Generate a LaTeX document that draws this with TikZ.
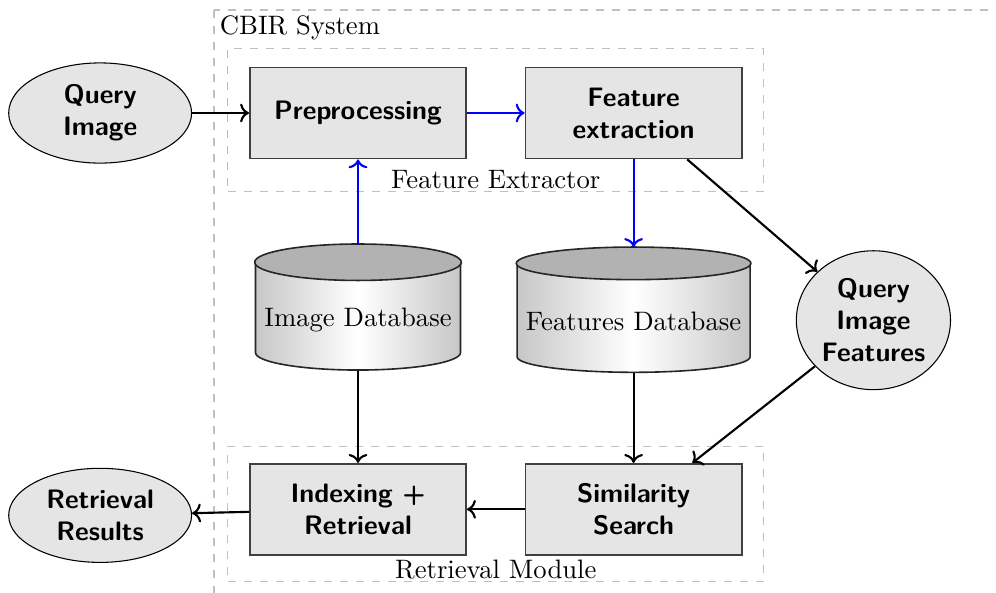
\documentclass[tikz,border=0pt]{standalone}
\usepackage{xcolor}
\usepackage{tikz}
\usetikzlibrary{arrows.meta,positioning,shapes.geometric,fit,calc}
\tikzset{
  cbir/block/.style={draw=black!75, semithick, fill=black!10, minimum width=28.5mm, minimum height=12mm, align=center, font=\sffamily\bfseries},
  cbir/io/.style={draw, ellipse, fill=black!10, align=center, inner sep=1pt, font=\sffamily\bfseries},
  cbir/db/.style={draw=black!85, semithick, cylinder, shape border rotate=90, left color=black!22, right color=black!22, middle color=white, align=center},
  cbir/cap/.style={draw=black!85, semithick, fill=black!30},
  cbir/group/.style={draw=black!25, dashed},
  cbir/grouplabel/.style={inner sep=1pt},
  arr/.style={->, thick},
  arrblue/.style={arr, blue}
}

\begin{document}
\begin{tikzpicture}
  \useasboundingbox (-47.17mm,14.89mm) rectangle (84.06mm,-63.24mm);

  % feature extractor row
  \node[cbir/block] (pre) {Preprocessing};
  \node[cbir/io, minimum width=24.1mm, minimum height=13.2mm, left=7.5mm of pre] (qimg) {Query\\Image};
  \node[cbir/block, right=7.6mm of pre] (fext) {Feature\\extraction};

  % databases
  \node[cbir/db, shape aspect=0.17, minimum width=26.2mm, minimum height=16.5mm, anchor=top] (imgdb) at ($(pre)+(0,-17.26mm)$) {Image Database};
  \node[cbir/db, shape aspect=0.133, minimum width=29.9mm, minimum height=16.4mm, anchor=top] (featdb) at ($(fext)+(0,-17.66mm)$) {Features Database};
  \foreach \db in {imgdb,featdb}
    \path[cbir/cap] let \p1=(\db.before top), \p2=(\db.after top), \p3=(\db.top) in
      ($(\p1)!0.5!(\p2)$) ellipse ({abs(\x2-\x1)/2} and {\y3-\y1});
  \node[cbir/io, minimum width=19.9mm, minimum height=18.3mm] (qif) at ($(fext)+(31.6mm,-27.3mm)$) {Query\\Image\\Features};

  % retrieval row
  \node[cbir/block, below=40mm of pre] (ir) {Indexing +\\Retrieval};
  \node[cbir/block, right=7.6mm of ir] (sim) {Similarity\\Search};
  \node[cbir/io, minimum width=24.1mm, minimum height=12.4mm, left=7.5mm of ir, yshift=-0.8mm] (rr) {Retrieval\\Results};

  % groups
  \coordinate (febot) at ($(pre.south)+(0,-1.8mm)$);
  \node[cbir/group, fit=(pre)(fext)(febot), inner xsep=2.8mm, inner ysep=2.4mm] (fe) {};
  \node[cbir/grouplabel, anchor=south] (felbl) at (fe.south) {Feature Extractor};
  \coordinate (rmbot) at ($(ir.south)+(0,-1.2mm)$);
  \node[cbir/group, fit=(ir)(sim)(rmbot), inner xsep=2.8mm, inner ysep=2.2mm] (rm) {};
  \node[cbir/grouplabel, anchor=south] (rmlbl) at (rm.south) {Retrieval Module};
  \coordinate (sysnw) at (-18.97mm,13.57mm);
  \draw[cbir/group] (sysnw) rectangle (95mm,-70mm);
  \node[inner sep=2pt, anchor=north west] (syslbl) at (sysnw) {CBIR System};

  % connectors
  \draw[arr] (qimg) -- (pre);
  \draw[arrblue] (pre) -- (fext);
  \draw[arrblue] (imgdb.top) -- (pre);
  \draw[arrblue] (fext) -- (featdb.top);
  \draw[arr] (fext) -- (qif);
  \draw[arr] (qif) -- (sim);
  \draw[arr] (imgdb.bottom) -- (ir);
  \draw[arr] (featdb.bottom) -- (sim);
  \draw[arr] (sim) -- (ir);
  \draw[arr] (ir) -- (rr);
\end{tikzpicture}
\end{document}
